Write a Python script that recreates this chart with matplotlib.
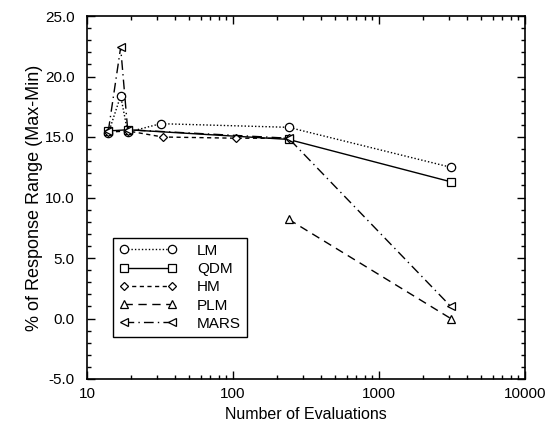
import numpy as np
import matplotlib
matplotlib.use('Agg')
import matplotlib.pyplot as plt
from matplotlib.ticker import MultipleLocator, FormatStrFormatter, LogLocator, FixedFormatter, FixedLocator

plt.rcParams['font.family'] = ['Liberation Sans', 'DejaVu Sans']

# data
lm_x = [14, 17, 19, 32, 240, 3100]
lm_y = [15.3, 18.4, 15.4, 16.1, 15.8, 12.5]
qdm_x = [14, 19, 240, 3100]
qdm_y = [15.5, 15.6, 14.8, 11.3]
hm_x = [14, 19, 33, 105, 240]
hm_y = [15.4, 15.5, 15.0, 14.9, 14.9]
plm_x = [240, 3100]
plm_y = [8.2, 0.0]
mars_x = [14, 17, 19, 240, 3100]
mars_y = [15.5, 22.4, 15.6, 14.9, 1.0]

fig = plt.figure(figsize=(5.58, 4.28), dpi=100)
ax = fig.add_axes([87 / 558, 1 - 379 / 428, 438 / 558, 363 / 428])

mk = dict(color='black', lw=1.0, markersize=6, markerfacecolor='white',
          markeredgecolor='black', markeredgewidth=0.9)
ax.plot(lm_x, lm_y, linestyle=(0, (1, 1.5)), marker='o', label='LM', **mk)
ax.plot(qdm_x, qdm_y, linestyle='-', marker='s', label='QDM', **mk)
ax.plot(hm_x, hm_y, linestyle=(0, (3, 2.5)), marker='D', label='HM',
        **{**mk, 'markersize': 4.5})
ax.plot(plm_x, plm_y, linestyle=(0, (6, 4)), marker='^', label='PLM', **mk)
ax.plot(mars_x, mars_y, linestyle=(0, (7, 3, 1, 3)), marker='<', label='MARS', **mk)

ax.set_xscale('log')
ax.set_xlim(10, 10000)
ax.set_ylim(-5, 25)
ax.xaxis.set_major_locator(FixedLocator([10, 100, 1000, 10000]))
ax.xaxis.set_major_formatter(FixedFormatter(['10', '100', '1000', '10000']))
ax.xaxis.set_minor_locator(LogLocator(base=10, subs=np.arange(2, 10)))
ax.yaxis.set_major_locator(MultipleLocator(5))
ax.yaxis.set_minor_locator(MultipleLocator(1))
ax.yaxis.set_major_formatter(FormatStrFormatter('%.1f'))

ax.tick_params(which='both', direction='in', top=True, right=True,
               labelsize=11, width=1.0)
ax.tick_params(which='major', length=6, pad=9)
ax.tick_params(axis='x', which='major', pad=6)
ax.tick_params(which='minor', length=3)
for s in ax.spines.values():
    s.set_linewidth(1.2)

ax.set_xlabel('Number of Evaluations', fontsize=11.5, labelpad=4)
ax.set_ylabel('% of Response Range (Max-Min)', fontsize=13, labelpad=1)

leg = ax.legend(loc='lower left', bbox_to_anchor=(0.059, 0.116), fontsize=11,
                numpoints=2, handlelength=3.8, labelspacing=0.28,
                fancybox=False, framealpha=1, edgecolor='black',
                borderpad=0.4, handletextpad=1.3, borderaxespad=0)
leg.get_frame().set_linewidth(1.0)

fig.savefig('out.png', dpi=100)
